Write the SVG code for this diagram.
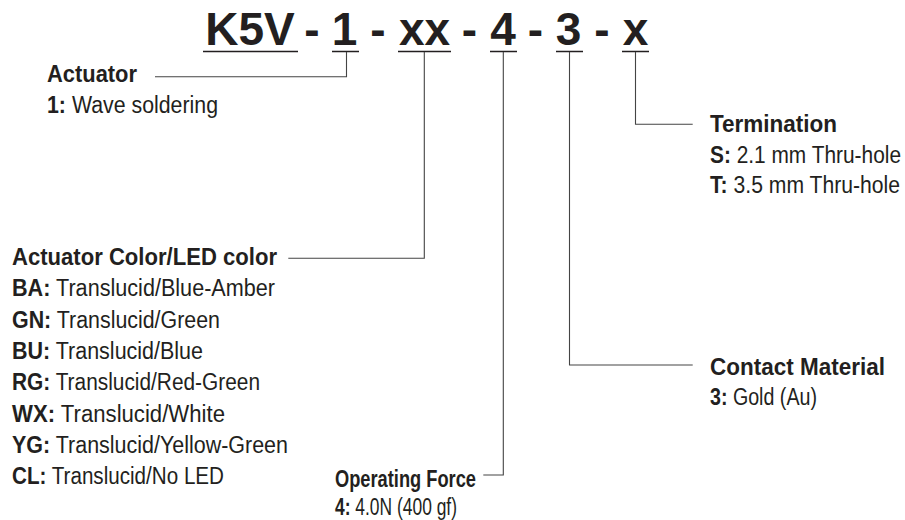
<svg xmlns="http://www.w3.org/2000/svg" width="905" height="520" viewBox="0 0 905 520">
<style>
text{font-family:"Liberation Sans",Arial,sans-serif;fill:#231f20}
.t{font-size:46px;font-weight:bold;text-anchor:middle}
.h{font-size:23px;font-weight:bold}
.b{font-size:23px}
.k{font-weight:bold}
.ul{stroke:#231f20;stroke-width:1.3;fill:none}
.c{stroke:#444;stroke-width:1.1;fill:none}
</style>
<rect width="905" height="520" fill="#fff"/>
<g id="title">
<text class="t" x="250" y="45">K5V</text>
<text class="t" x="312" y="45">-</text>
<text class="t" x="344.5" y="45">1</text>
<text class="t" x="378" y="45">-</text>
<text class="t" x="424.5" y="45">xx</text>
<text class="t" x="469.5" y="45">-</text>
<text class="t" x="503" y="45">4</text>
<text class="t" x="535.5" y="45">-</text>
<text class="t" x="568.5" y="45">3</text>
<text class="t" x="602" y="45">-</text>
<text class="t" x="635.5" y="45">x</text>
<path class="ul" d="M203 51.5H298M332 51.5H359M398 51.5H451M490 51.5H517M556 51.5H583M622 51.5H649"/>
</g>
<g id="actuator">
<text class="h" x="47" y="81.7" textLength="90" lengthAdjust="spacingAndGlyphs">Actuator</text>
<text class="b" x="47" y="113.3" textLength="171" lengthAdjust="spacingAndGlyphs"><tspan class="k">1:</tspan> Wave soldering</text>
</g>
<g id="actuator-color">
<text class="h" x="12" y="265" textLength="265" lengthAdjust="spacingAndGlyphs">Actuator Color/LED color</text>
<text class="b" x="12" y="296.3" textLength="263" lengthAdjust="spacingAndGlyphs"><tspan class="k">BA:</tspan> Translucid/Blue-Amber</text>
<text class="b" x="12" y="327.6" textLength="208" lengthAdjust="spacingAndGlyphs"><tspan class="k">GN:</tspan> Translucid/Green</text>
<text class="b" x="12" y="359" textLength="191" lengthAdjust="spacingAndGlyphs"><tspan class="k">BU:</tspan> Translucid/Blue</text>
<text class="b" x="12" y="390.3" textLength="248" lengthAdjust="spacingAndGlyphs"><tspan class="k">RG:</tspan> Translucid/Red-Green</text>
<text class="b" x="12" y="421.6" textLength="213" lengthAdjust="spacingAndGlyphs"><tspan class="k">WX:</tspan> Translucid/White</text>
<text class="b" x="12" y="452.9" textLength="276" lengthAdjust="spacingAndGlyphs"><tspan class="k">YG:</tspan> Translucid/Yellow-Green</text>
<text class="b" x="12" y="484.2" textLength="212" lengthAdjust="spacingAndGlyphs"><tspan class="k">CL:</tspan> Translucid/No LED</text>
</g>
<g id="operating-force">
<text class="h" x="335" y="486.7" textLength="141" lengthAdjust="spacingAndGlyphs">Operating Force</text>
<text class="b" x="335" y="515" textLength="122" lengthAdjust="spacingAndGlyphs"><tspan class="k">4:</tspan> 4.0N (400 gf)</text>
</g>
<g id="contact-material">
<text class="h" x="710" y="374.5" textLength="175" lengthAdjust="spacingAndGlyphs">Contact Material</text>
<text class="b" x="710" y="405" textLength="107" lengthAdjust="spacingAndGlyphs"><tspan class="k">3:</tspan> Gold (Au)</text>
</g>
<g id="termination">
<text class="h" x="710" y="132" textLength="127" lengthAdjust="spacingAndGlyphs">Termination</text>
<text class="b" x="710" y="162.5" textLength="191" lengthAdjust="spacingAndGlyphs"><tspan class="k">S:</tspan> 2.1 mm Thru-hole</text>
<text class="b" x="710" y="193" textLength="190" lengthAdjust="spacingAndGlyphs"><tspan class="k">T:</tspan> 3.5 mm Thru-hole</text>
</g>
<g id="connectors">
<path class="c" d="M346.5 52V76.7H155"/>
<path class="c" d="M424.3 52V258.3H288.3"/>
<path class="c" d="M503.3 52V475H483.3"/>
<path class="c" d="M569.5 52V365H692.7"/>
<path class="c" d="M635.5 52V124.3H692.7"/>
</g>
</svg>
